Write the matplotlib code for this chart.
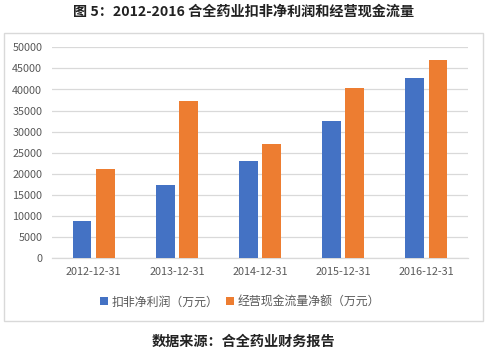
import matplotlib
matplotlib.use("Agg")
import matplotlib.pyplot as plt
from matplotlib.patches import Rectangle
import numpy as np

plt.rcParams['font.family'] = ['Noto Sans CJK SC', 'DejaVu Sans']

categories = ["2012-12-31", "2013-12-31", "2014-12-31", "2015-12-31", "2016-12-31"]
profit = [8850, 17370, 23050, 32530, 42710]
cashflow = [21160, 37260, 27080, 40340, 46970]
series_names = ["扣非净利润（万元）", "经营现金流量净额（万元）"]
yticks = list(range(0, 50001, 5000))
title = "图 5：2012-2016 合全药业扣非净利润和经营现金流量"
source = "数据来源：合全药业财务报告"

W, H = 490, 352
fig = plt.figure(figsize=(W / 100, H / 100), dpi=100)
fig.patch.set_facecolor("white")

# outer frame
fig.patches.append(Rectangle((3.5 / W, 1 - 321 / H), (483 - 3.5) / W, (321 - 32.5) / H,
                             transform=fig.transFigure, fill=False,
                             edgecolor="#D9D9D9", linewidth=1.0))

ax = fig.add_axes([52 / W, 1 - 258.3 / H, 416 / W, 211 / H])
x = np.arange(len(categories))
bw = 0.225
off = 0.14
ax.bar(x - off, profit, width=bw, color="#4472C4", label=series_names[0], zorder=3)
ax.bar(x + off, cashflow, width=bw, color="#ED7D31", label=series_names[1], zorder=3)

ax.set_xlim(-0.5, len(categories) - 0.5)
ax.set_ylim(0, 50000)
ax.set_yticks(yticks)
ax.set_yticklabels([str(v) for v in yticks])
ax.set_xticks(x)
ax.set_xticklabels(categories)
ax.grid(axis="y", color="#D9D9D9", linewidth=0.9, zorder=0)
for s in ["top", "right", "left"]:
    ax.spines[s].set_visible(False)
ax.spines["bottom"].set_color("#D9D9D9")
ax.spines["bottom"].set_linewidth(0.9)
ax.tick_params(axis="both", length=0, labelsize=7.8, labelcolor="#595959")
ax.tick_params(axis="y", pad=7)
ax.tick_params(axis="x", pad=6)

leg = fig.legend(loc="center", bbox_to_anchor=(240 / W, 1 - 302 / H), ncol=2,
                 frameon=False, fontsize=8.6, handlelength=0.65, handleheight=0.65,
                 handletextpad=0.3, columnspacing=0.7, labelcolor="#595959")

fig.text(244 / W, 1 - 12 / H, title, ha="center", va="center", fontsize=10.2,
         fontweight="semibold", color="#222222")
fig.text(243 / W, 1 - 342 / H, source, ha="center", va="center", fontsize=10.2,
         fontweight="semibold", color="#222222")

fig.savefig("out.png", dpi=100)
